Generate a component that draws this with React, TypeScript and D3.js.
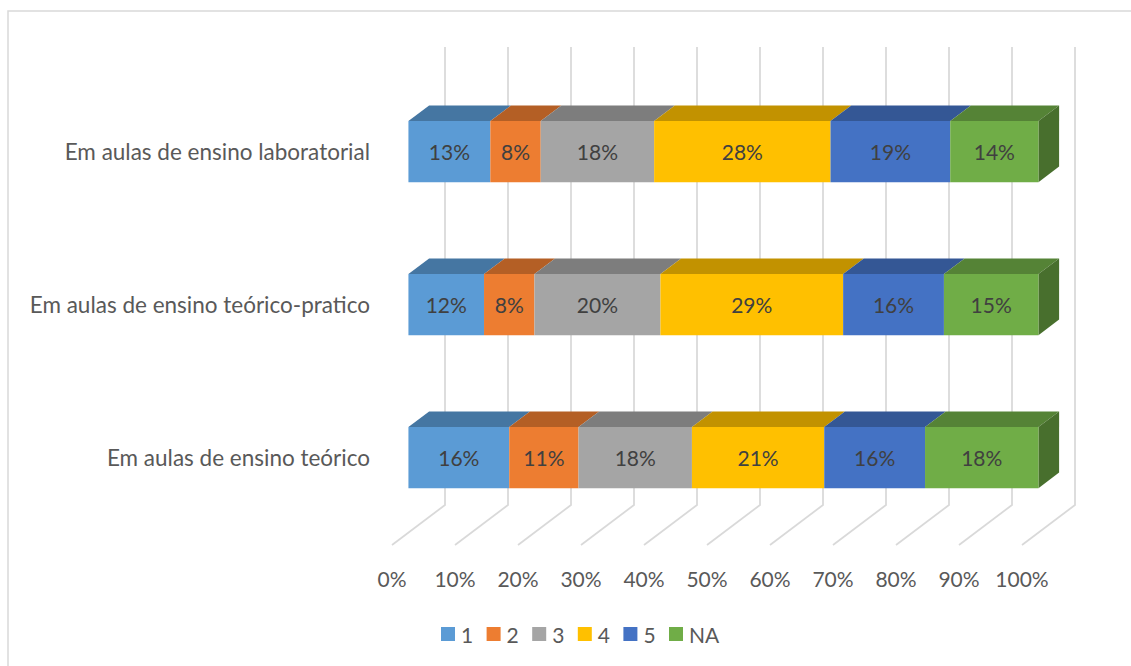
import React from "react";
import * as d3 from "d3";

const categories = [
  "Em aulas de ensino laboratorial",
  "Em aulas de ensino teórico-pratico",
  "Em aulas de ensino teórico",
];
const seriesKeys = ["1", "2", "3", "4", "5", "NA"];
const series1 = [13, 12, 16];
const series2 = [8, 8, 11];
const series3 = [18, 20, 18];
const series4 = [28, 29, 21];
const series5 = [19, 16, 16];
const seriesNA = [14, 15, 18];
const seriesValues = [series1, series2, series3, series4, series5, seriesNA];
const colors = ["#5B9BD5", "#ED7D31", "#A5A5A5", "#FFC000", "#4472C4", "#70AD47"];
const xTicks = [0, 10, 20, 30, 40, 50, 60, 70, 80, 90, 100];
const tickLabels = xTicks.map((t) => `${t}%`);

const FONT = "Lato, 'Open Sans', sans-serif";

export default function App() {
  const W = 1131;
  const H = 666;
  const DX = 53; // depth offset in x
  const DY = 40; // depth offset in y
  const floorY = 545;
  const gridTop = 47;
  const z0 = 0.31;
  const z1 = 0.7;

  const x = d3.scaleLinear().domain([0, 100]).range([392, 1022]);
  const y = d3
    .scaleBand<string>()
    .domain(categories)
    .range([87.5, 546.5])
    .paddingInner(0.6)
    .paddingOuter(0.3);
  const bw = y.bandwidth();

  const rows = categories.map((c, i) => {
    const r: Record<string, any> = { cat: c };
    seriesKeys.forEach((k, j) => (r[k] = seriesValues[j][i]));
    return r;
  });
  const stacked = d3.stack<any>().keys(seriesKeys)(rows);

  const P = (v: number, Y: number, z: number) => [x(v) + z * DX, Y - z * DY];
  const poly = (pts: number[][]) => pts.map((p) => p.join(",")).join(" ");

  const shade = (c: string, k: number) => {
    const rgb = d3.rgb(c);
    return d3.rgb(rgb.r * k, rgb.g * k, rgb.b * k).formatHex();
  };

  const faces: JSX.Element[] = [];
  const fronts: JSX.Element[] = [];
  const labels: JSX.Element[] = [];

  categories.forEach((c, i) => {
    const Yt = y(c)!;
    const Yb = Yt + bw;
    stacked.forEach((s, j) => {
      const [a, b] = s[i];
      const col = colors[j];
      faces.push(
        <polygon
          key={`t-${i}-${j}`}
          points={poly([P(a, Yt, z0), P(b, Yt, z0), P(b, Yt, z1), P(a, Yt, z1)])}
          fill={shade(col, 0.76)}
        />
      );
      if (j === stacked.length - 1) {
        faces.push(
          <polygon
            key={`r-${i}-${j}`}
            points={poly([P(b, Yt, z0), P(b, Yt, z1), P(b, Yb, z1), P(b, Yb, z0)])}
            fill={shade(col, 0.64)}
          />
        );
      }
      fronts.push(
        <polygon
          key={`f-${i}-${j}`}
          points={poly([P(a, Yt, z0), P(b, Yt, z0), P(b, Yb, z0), P(a, Yb, z0)])}
          fill={col}
        />
      );
      const cx = (P(a, Yt, z0)[0] + P(b, Yt, z0)[0]) / 2;
      const cy = Yt + bw / 2 - z0 * DY;
      labels.push(
        <text
          key={`l-${i}-${j}`}
          x={cx}
          y={cy}
          textAnchor="middle"
          dominantBaseline="central"
          fontSize={21}
          fill="#404040"
        >
          {`${seriesValues[j][i]}%`}
        </text>
      );
    });
  });

  const legendStart = 441;
  const legendStep = 45.6;

  return (
    <svg
      width={W}
      height={H}
      style={{ position: "fixed", left: 0, top: 0, background: "#fff" }}
      fontFamily={FONT}
    >
      <rect x={0} y={0} width={W} height={H} fill="#fff" />
      <rect x={8} y={11} width={W + 20} height={H + 20} fill="none" stroke="#D9D9D9" strokeWidth={1.5} />
      {/* gridlines: back wall + floor */}
      {xTicks.map((t) => (
        <polyline
          key={`g-${t}`}
          points={poly([
            [x(t) + DX, gridTop],
            [x(t) + DX, floorY - DY],
            [x(t), floorY],
          ])}
          fill="none"
          stroke="#D9D9D9"
          strokeWidth={1.75}
        />
      ))}
      {xTicks.map((t, i) => (
        <text
          key={`x-${t}`}
          x={x(t)}
          y={578}
          textAnchor="middle"
          dominantBaseline="central"
          fontSize={21}
          fill="#595959"
        >
          {tickLabels[i]}
        </text>
      ))}
      {categories.map((c) => (
        <text
          key={`c-${c}`}
          x={370}
          y={y(c)! + bw / 2 - z0 * DY}
          textAnchor="end"
          dominantBaseline="central"
          fontSize={22.5}
          fill="#595959"
        >
          {c}
        </text>
      ))}
      {faces}
      {fronts}
      {labels}
      {seriesKeys.map((k, j) => {
        const lx = legendStart + j * legendStep;
        return (
          <g key={`leg-${k}`}>
            <rect x={lx} y={627} width={14} height={14} fill={colors[j]} />
            <text x={lx + 20} y={634} dominantBaseline="central" fontSize={21} fill="#595959">
              {k}
            </text>
          </g>
        );
      })}
    </svg>
  );
}
